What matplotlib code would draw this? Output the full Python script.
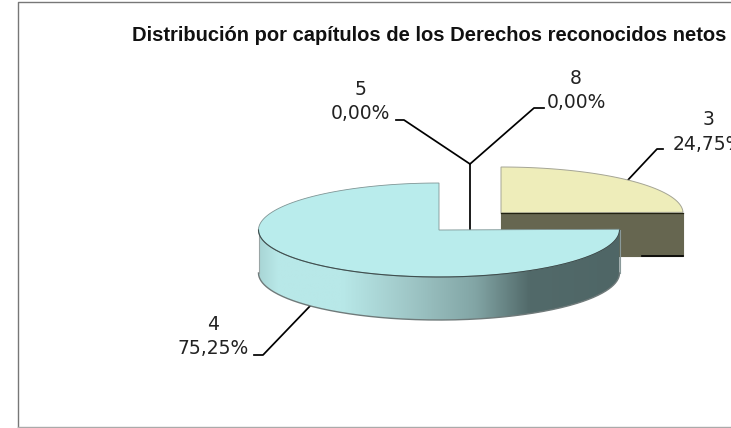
import matplotlib
matplotlib.use("Agg")
import matplotlib.pyplot as plt
import numpy as np
from matplotlib.patches import Polygon, PathPatch
from matplotlib.path import Path
from matplotlib.colors import LinearSegmentedColormap

titulo = "Distribución por capítulos de los Derechos reconocidos netos"
capitulos = ["3", "4", "5", "8"]
porcentajes = [24.75, 75.25, 0.00, 0.00]
etiquetas = ["24,75%", "75,25%", "0,00%", "0,00%"]

plt.rcParams["font.family"] = ["DejaVu Sans"]

fig = plt.figure(figsize=(7.31, 4.28), dpi=100)
ax = fig.add_axes([0, 0, 1, 1])
ax.set_xlim(0, 731)
ax.set_ylim(428, 0)
ax.axis("off")

# marco del grafico (a la derecha queda cortado)
ax.plot([731, 17.5, 17.5], [1.5, 1.5, 426.5], color="#777777", lw=1)
ax.plot([17.5, 731], [426.5, 426.5], color="#aaaaaa", lw=1)


def arco(cx, cy, rx, ry, desde, hasta):
    t = np.radians(np.linspace(desde, hasta, 300))
    return np.column_stack([cx + rx * np.cos(t), cy - ry * np.sin(t)])


# los angulos salen de los porcentajes, empezando arriba
ang3 = porcentajes[0] * 3.6
ang4 = porcentajes[1] * 3.6

# leader lines (debajo de las porciones)
lineas = [
    ([396, 404, 470, 470], [120, 120, 164, 230]),
    ([544, 534, 470], [108, 108, 164]),
    ([663, 657, 627], [149, 149, 181]),
    ([254, 263, 311], [355, 355, 305]),
]
for xs, ys in lineas:
    ax.plot(xs, ys, color="black", lw=1.25, zorder=1)

# porcion 3 (separada)
cx3, cy3, rx3, ry3, alto3 = 501, 213, 182, 46, 43
caja = np.array([[cx3, cy3], [cx3 + rx3, cy3], [cx3 + rx3, cy3 + alto3], [cx3, cy3 + alto3]])
ax.add_patch(Polygon(caja, closed=True, fc="#666650", ec="#666650", lw=0.8, zorder=2))
ax.plot([642, 683], [256, 256], color="black", lw=1.2, zorder=2)
tapa3 = np.vstack([[cx3, cy3], arco(cx3, cy3, rx3, ry3, 90, 90 - ang3)])
ax.add_patch(Polygon(tapa3, closed=True, fc="#eeedba", ec="#a5a595", lw=0.7, zorder=3))
ax.plot([cx3, cx3 + rx3], [cy3, cy3], color="#222211", lw=0.9, zorder=3)

# porcion 4
cx4, cy4, rx4, ry4, alto4 = 439, 230, 180.5, 47, 43
sup = arco(cx4, cy4, rx4, ry4, 0, -180)
inf = arco(cx4, cy4 + alto4, rx4, ry4, -180, 0)
lado = np.vstack([sup, inf])
cmap = LinearSegmentedColormap.from_list("lado", [
    (0.00, "#a9d6d6"), (0.05, "#b8e8e8"), (0.23, "#b8e8e8"),
    (0.41, "#a0c8c8"), (0.60, "#82a5a5"), (0.75, "#526a6a"), (1.00, "#4f6666"),
])
grad = ax.imshow(np.linspace(0, 1, 256).reshape(1, -1), cmap=cmap, aspect="auto",
                 extent=[cx4 - rx4, cx4 + rx4, cy4 + alto4 + ry4, cy4], zorder=4)
recorte = PathPatch(Path(np.vstack([lado, lado[:1]])), transform=ax.transData, fc="none", ec="none")
ax.add_patch(recorte)
grad.set_clip_path(recorte)
ax.set_xlim(0, 731)
ax.set_ylim(428, 0)
ax.plot(inf[:, 0], inf[:, 1], color="#6f7a7a", lw=1, zorder=5)
ax.plot([cx4 - rx4, cx4 - rx4], [cy4, cy4 + alto4], color="#9aa5a5", lw=0.8, zorder=5)
ax.plot([cx4 + rx4, cx4 + rx4], [cy4, cy4 + alto4], color="#8a9a9a", lw=0.8, zorder=5)
tapa4 = np.vstack([[cx4, cy4], arco(cx4, cy4, rx4, ry4, 90, 90 + ang4)])
ax.add_patch(Polygon(tapa4, closed=True, fc="#b9ecec", ec="#7f9595", lw=0.6, zorder=6))
ax.plot(sup[:, 0], sup[:, 1], color="#3f4f4f", lw=0.8, zorder=7)

# textos
ax.text(429.5, 35.5, titulo, fontsize=14.5, fontweight="bold", ha="center", va="center", color="#111111",
        family="Liberation Sans")
posiciones = [(708, 119, 144), (213, 325, 348), (360, 89, 113), (576, 78, 102)]
for cap, et, (x, y1, y2) in zip(capitulos, etiquetas, posiciones):
    ax.text(x, y1, cap, fontsize=13.5, ha="center", va="center", color="#222222")
    ax.text(x, y2, et, fontsize=13.5, ha="center", va="center", color="#222222")

fig.savefig("out.png", dpi=100)
